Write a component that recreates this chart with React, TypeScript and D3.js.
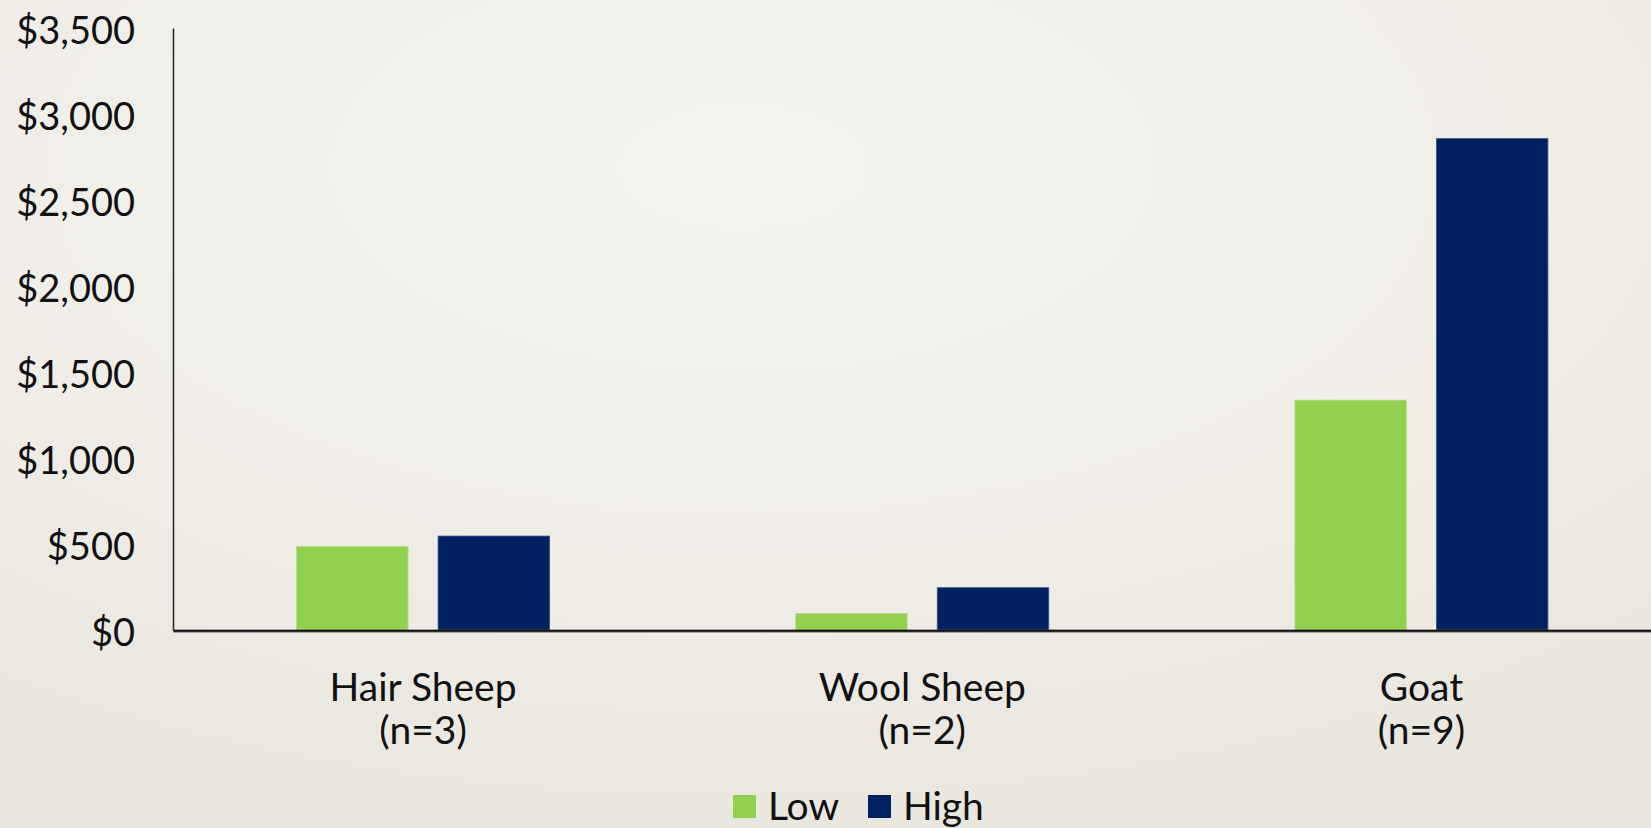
import React from "react";
import * as d3 from "d3";

const categories = ["Hair Sheep", "Wool Sheep", "Goat"];
const categorySub = ["(n=3)", "(n=2)", "(n=9)"];
const seriesNames = ["Low", "High"];
const lowValues = [490, 100, 1340];
const highValues = [550, 250, 2860];
const yTicks = [0, 500, 1000, 1500, 2000, 2500, 3000, 3500];
const seriesColors = ["#92D050", "#002060"];

const W = 1651;
const H = 828;
const FONT = "Lato, 'Open Sans', sans-serif";

export default function App() {
  const x0 = 173.5;
  const x1 = 1671;
  const yBase = 630.7;
  const yTop = 28.5;

  const x = d3.scaleBand<string>().domain(categories).range([x0, x1]).paddingInner(0).paddingOuter(0);
  const inner = d3.scaleBand<string>().domain(seriesNames).range([0, 253]).paddingInner(0.212);
  const y = d3.scaleLinear().domain([0, 3500]).range([yBase, yTop]);
  const fmt = (v: number) => "$" + d3.format(",")(v);
  const values = [lowValues, highValues];

  return (
    <svg width={W} height={H} style={{ position: "absolute", left: 0, top: 0 }} fontFamily={FONT}>
      <defs>
        <radialGradient id="bg" cx="0.45" cy="0.2" r="0.85">
          <stop offset="0" stopColor="#f5f4f0" />
          <stop offset="0.6" stopColor="#efede6" />
          <stop offset="1" stopColor="#e8e5dc" />
        </radialGradient>
      </defs>
      <rect x={0} y={0} width={W} height={H} fill="url(#bg)" />

      {/* bars */}
      {categories.map((c, i) => {
        const cx = (x(c) as number) + x.bandwidth() / 2 - 126.5;
        return seriesNames.map((s, j) => {
          const v = values[j][i];
          return (
            <rect
              key={c + s}
              x={cx + (inner(s) as number)}
              y={y(v)}
              width={inner.bandwidth()}
              height={yBase - y(v)}
              fill={seriesColors[j]}
              stroke={j === 0 ? "#b5dc8a" : "#3a5585"}
              strokeWidth={0.8}
            />
          );
        });
      })}

      {/* axes */}
      <line x1={x0} x2={x0} y1={yTop} y2={yBase} stroke="#222" strokeWidth={1.5} />
      <line x1={x0} x2={W} y1={yBase + 0.5} y2={yBase + 0.5} stroke="#8a8a86" strokeWidth={3} />
      <line x1={x0} x2={W} y1={yBase} y2={yBase} stroke="#111" strokeWidth={2} />

      {/* y tick labels */}
      {yTicks.map((t) => (
        <text key={t} x={135} y={y(t)} textAnchor="end" dominantBaseline="central" fontSize={38} fill="#111">
          {fmt(t)}
        </text>
      ))}

      {/* category labels */}
      {categories.map((c, i) => {
        const cx = (x(c) as number) + x.bandwidth() / 2;
        return (
          <g key={c}>
            <text x={cx} y={686} textAnchor="middle" dominantBaseline="central" fontSize={39} fill="#111">
              {c}
            </text>
            <text x={cx} y={729} textAnchor="middle" dominantBaseline="central" fontSize={39} fill="#111">
              {categorySub[i]}
            </text>
          </g>
        );
      })}

      {/* legend */}
      <rect x={733} y={795} width={23} height={23} fill={seriesColors[0]} />
      <text x={768} y={820} fontSize={39} fill="#111">{seriesNames[0]}</text>
      <rect x={868} y={795} width={23} height={23} fill={seriesColors[1]} />
      <text x={903} y={820} fontSize={39} fill="#111">{seriesNames[1]}</text>
    </svg>
  );
}
